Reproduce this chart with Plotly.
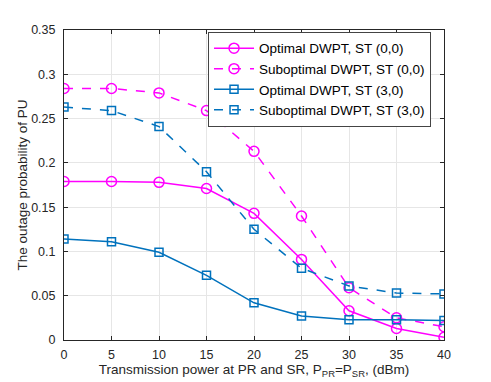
import plotly.graph_objects as go

# transmission power (dBm)
power_dbm = [0, 5, 10, 15, 20, 25, 30, 35, 40]

opt_st00 = [0.179, 0.179, 0.178, 0.171, 0.143, 0.091, 0.033, 0.013, 0.003]
subopt_st00 = [0.284, 0.284, 0.279, 0.259, 0.213, 0.140, 0.059, 0.025, 0.015]
opt_st30 = [0.114, 0.111, 0.099, 0.073, 0.042, 0.027, 0.023, 0.023, 0.022]
subopt_st30 = [0.263, 0.259, 0.241, 0.190, 0.125, 0.081, 0.061, 0.053, 0.052]

MAGENTA = "#FF00FF"
BLUE = "#0072BD"
AXIS = "#262626"
FONT = "Liberation Sans, Arial, sans-serif"

series = [
    ("Optimal DWPT, ST (0,0)", opt_st00, MAGENTA, "solid", "circle-open", 10),
    ("Suboptimal DWPT, ST (0,0)", subopt_st00, MAGENTA, "dash", "circle-open", 10),
    ("Optimal DWPT, ST (3,0)", opt_st30, BLUE, "solid", "square-open", 8),
    ("Suboptimal DWPT, ST (3,0)", subopt_st30, BLUE, "dash", "square-open", 8),
]

fig = go.Figure()
for name, values, color, dash, symbol, size in series:
    fig.add_trace(go.Scatter(
        x=power_dbm, y=values, name=name, mode="lines+markers",
        line=dict(color=color, width=1.5, dash=dash),
        marker=dict(symbol=symbol, size=size, color=color, line=dict(width=1.5, color=color)),
    ))

axis_common = dict(
    showline=True, linecolor=AXIS, linewidth=1, mirror="allticks",
    ticks="inside", ticklen=4, tickcolor=AXIS,
    showgrid=True, gridcolor="#E6E6E6", gridwidth=1,
    zeroline=False, tickfont=dict(size=12.5, color=AXIS, family=FONT),
    automargin=False,
)

fig.update_layout(
    width=491, height=382,
    paper_bgcolor="white", plot_bgcolor="white",
    font=dict(family=FONT, color=AXIS, size=12),
    margin=dict(l=64, r=47, t=30, b=42),
    showlegend=True,
    legend=dict(
        x=0.379, y=0.994, xanchor="left", yanchor="top",
        bgcolor="white", bordercolor="#444444", borderwidth=1,
        font=dict(size=13.5, color="black", family=FONT),
        tracegroupgap=0, itemwidth=40,
    ),
    xaxis=dict(
        axis_common, range=[0, 40], dtick=5, ticklabelstandoff=3,
        title=dict(text="Transmission power at PR and SR, P<sub>PR</sub>=P<sub>SR</sub>, (dBm)",
                   font=dict(size=13.5, color=AXIS), standoff=3),
    ),
    yaxis=dict(
        axis_common, range=[0, 0.35], dtick=0.05, ticklabelstandoff=5,
        title=dict(text="The outage probability of PU", font=dict(size=13.5, color=AXIS), standoff=0),
    ),
)

# drop the default page margin so the figure sits at the window's corner
fig.write_html("out.html", config={"displayModeBar": False},
               post_script="document.body.style.margin='0px';")
